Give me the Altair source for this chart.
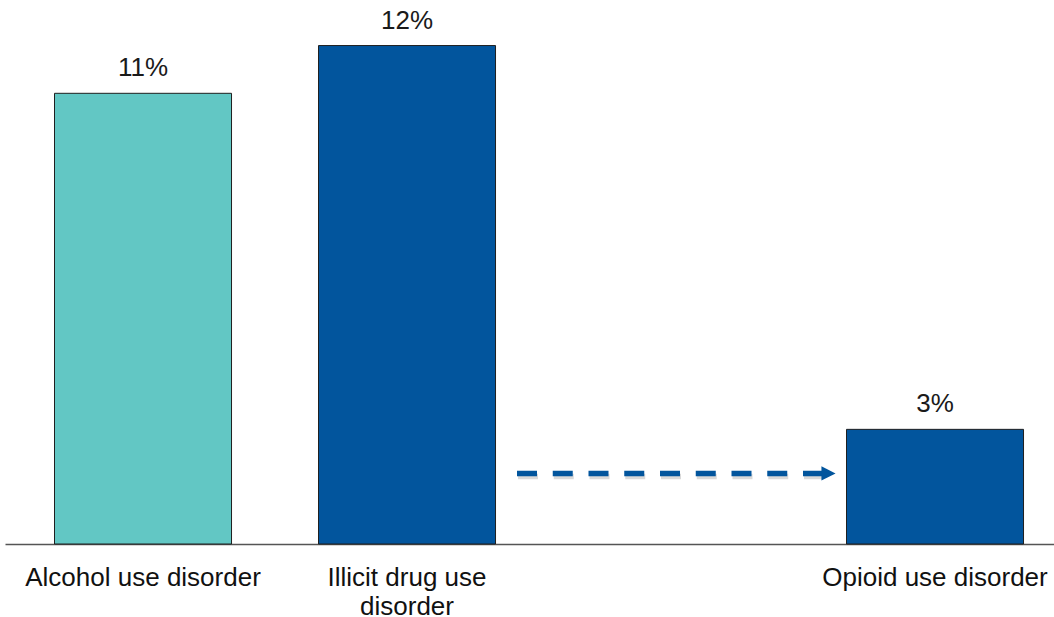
import altair as alt
import pandas as pd

# ---- data ----
categories = ["Alcohol use disorder", "Illicit drug use disorder", " ", "Opioid use disorder"]
bar_categories = ["Alcohol use disorder", "Illicit drug use disorder", "Opioid use disorder"]
values = [10.85, 12.0, 2.76]
value_labels = ["11%", "12%", "3%"]
bar_colors = ["#62C7C4", "#02559D", "#02559D"]
arrow_level = [1.7]

df = pd.DataFrame({"category": bar_categories, "value": values,
                   "label": value_labels, "color": bar_colors})
arrow_df = pd.DataFrame({"y": arrow_level})

FONT = "Liberation Sans"
BLUE = "#02559D"

label_expr = ("datum.value == 'Illicit drug use disorder' ? "
              "['Illicit drug use', 'disorder'] : datum.value")

x_enc = alt.X(
    "category:N",
    scale=alt.Scale(domain=categories, paddingInner=0.3295,
                    paddingOuter=0.1515, align=0.619),
    axis=alt.Axis(title=None, labelAngle=0, ticks=False, labelFontSize=26,
                  labelFont=FONT, labelColor="#111111", labelPadding=20,
                  labelLineHeight=29, labelLimit=0, labelOverlap=False,
                  domainColor="#555555", domainWidth=1.5,
                  labelExpr=label_expr),
)
y_scale = alt.Scale(domain=[0, 13], nice=False, zero=True)
y_enc = alt.Y("value:Q", scale=y_scale, axis=None)

base = alt.Chart(df)

bars = base.mark_bar(stroke="#1f1f1f", strokeWidth=1).encode(
    x=x_enc, y=y_enc, color=alt.Color("color:N", scale=None)
)

texts = base.mark_text(dy=-17, baseline="alphabetic", fontSize=26, font=FONT,
                       color="#1a1a1a").encode(
    x=x_enc, y=y_enc, text="label:N"
)

arrow_base = alt.Chart(arrow_df)
shadow = arrow_base.mark_rule(strokeDash=[20, 15.75], strokeWidth=5.5,
                              color="#000000", opacity=0.15, yOffset=3,
                              xOffset=1).encode(
    x=alt.value(512), x2=alt.value(818),
    y=alt.Y("y:Q", scale=y_scale, axis=None)
)
arrow_line = arrow_base.mark_rule(strokeDash=[20, 15.75], strokeWidth=5.5,
                                  color=BLUE).encode(
    x=alt.value(512), x2=alt.value(818),
    y=alt.Y("y:Q", scale=y_scale, axis=None)
)
arrow_head = arrow_base.mark_point(shape="M-1,-1L1,0L-1,1Z", size=200,
                                   filled=True, color=BLUE, opacity=1).encode(
    x=alt.value(823.5),
    y=alt.Y("y:Q", scale=y_scale, axis=None)
)

chart = alt.layer(bars, texts, shadow, arrow_line, arrow_head).properties(
    width=1049, height=540,
    autosize=alt.AutoSizeParams(type="none"),
    padding={"left": 5, "top": 4, "right": 0, "bottom": 73},
    background="white",
).configure_view(stroke=None)

chart.save("out.html", embed_options={"renderer": "svg", "actions": False})
